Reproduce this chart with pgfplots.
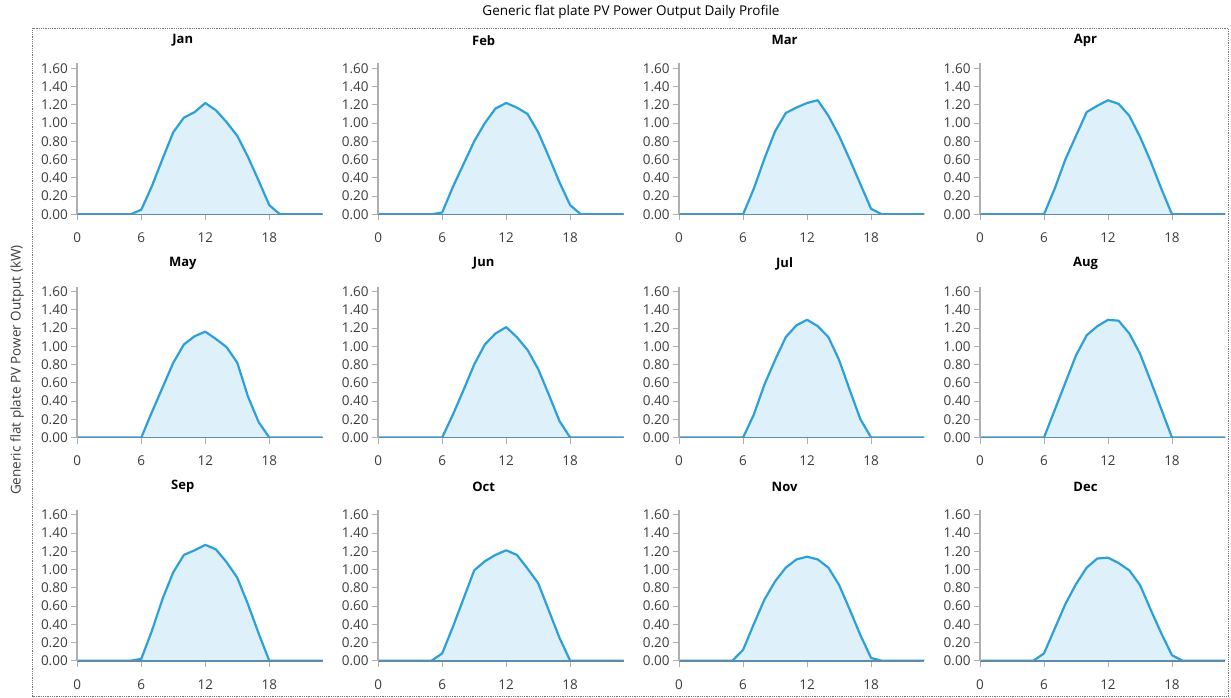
\documentclass[border=0pt]{standalone}
\usepackage{pgfplots}
\usepackage{pgfplotstable}
\pgfplotsset{compat=1.18}
\usepackage{fontspec}
\setmainfont{Open Sans}
\definecolor{pvline}{RGB}{45,160,218}
\definecolor{pvfill}{RGB}{222,240,250}
\definecolor{axgray}{RGB}{175,175,175}
\definecolor{zeroline}{RGB}{95,140,170}
\definecolor{ticktext}{RGB}{60,60,60}
\definecolor{framegray}{RGB}{120,120,120}

\pgfplotstableread{
h  Jan  Feb  Mar  Apr  May  Jun  Jul  Aug  Sep  Oct  Nov  Dec
0  0    0    0    0    0    0    0    0    0    0    0    0
1  0    0    0    0    0    0    0    0    0    0    0    0
2  0    0    0    0    0    0    0    0    0    0    0    0
3  0    0    0    0    0    0    0    0    0    0    0    0
4  0    0    0    0    0    0    0    0    0    0    0    0
5  0    0    0    0    0    0    0    0    0    0    0    0
6  0.05 0.02 0    0    0    0    0    0    0.02 0.08 0.12 0.08
7  0.31 0.30 0.28 0.28 0.28 0.25 0.25 0.30 0.33 0.37 0.40 0.35
8  0.61 0.55 0.61 0.60 0.55 0.52 0.58 0.60 0.68 0.68 0.67 0.62
9  0.90 0.80 0.91 0.86 0.82 0.80 0.85 0.90 0.97 0.99 0.87 0.84
10 1.06 1.00 1.11 1.12 1.02 1.02 1.10 1.12 1.16 1.09 1.02 1.02
11 1.12 1.16 1.17 1.19 1.11 1.14 1.23 1.22 1.21 1.16 1.11 1.12
12 1.22 1.22 1.22 1.25 1.16 1.21 1.29 1.29 1.27 1.21 1.14 1.13
13 1.14 1.17 1.25 1.21 1.08 1.10 1.22 1.28 1.22 1.16 1.11 1.07
14 1.01 1.10 1.08 1.08 0.99 0.96 1.10 1.14 1.08 1.01 1.02 0.99
15 0.86 0.90 0.86 0.85 0.82 0.75 0.85 0.92 0.91 0.85 0.83 0.83
16 0.63 0.63 0.60 0.58 0.45 0.47 0.52 0.62 0.62 0.55 0.56 0.56
17 0.37 0.35 0.33 0.28 0.17 0.18 0.20 0.31 0.30 0.25 0.28 0.30
18 0.10 0.10 0.06 0    0    0    0    0    0    0    0.03 0.06
19 0    0    0    0    0    0    0    0    0    0    0    0
20 0    0    0    0    0    0    0    0    0    0    0    0
21 0    0    0    0    0    0    0    0    0    0    0    0
22 0    0    0    0    0    0    0    0    0    0    0    0
23 0    0    0    0    0    0    0    0    0    0    0    0
}\pvdata

\pgfplotsset{pvpanel/.style={
  scale only axis, width=245.3pt, height=151pt,
  xmin=0, xmax=23, ymin=0, ymax=1.655,
  axis lines*=left, axis on top,
  x axis line style={zeroline, line width=1.6pt},
  y axis line style={axgray, line width=1.8pt},
  tick align=outside, major tick length=6pt,
  tick style={axgray, line width=0.9pt},
  xtick={0,6,12,18}, ytick={0,0.2,0.4,0.6,0.8,1.0,1.2,1.4,1.6},
  /pgf/number format/assume math mode=true,
  ticklabel style={font=\fontsize{13.5}{15}\selectfont, text=ticktext},
  yticklabel style={/pgf/number format/.cd, fixed, fixed zerofill, precision=2},
  xticklabel style={yshift=-9pt},
  title style={font=\bfseries\fontsize{13}{15}\selectfont, at={(0.43,1)}, anchor=center, yshift=17pt},
}}

\newcommand{\panel}[3]{%
\begin{axis}[pvpanel, at={(#2pt,#3pt)}, anchor=south west, title={#1}]
\addplot[draw=none, fill=pvfill] table[x=h, y=#1] {\pvdata} \closedcycle;
\addplot[pvline, line width=2.2pt, line join=round] table[x=h, y=#1] {\pvdata};
\end{axis}}

\begin{document}
\begin{tikzpicture}
\path[use as bounding box] (0,0) rectangle (1231pt,-698pt);
\draw[framegray, densely dotted, line width=0.8pt] (32.5pt,-28.5pt) rectangle (1228.5pt,-696.5pt);
\node[font=\fontsize{13.5}{15}\selectfont, text=black] at (631pt,-12pt) {Generic flat plate PV Power Output Daily Profile};
\node[font=\fontsize{13.5}{15}\selectfont, text=ticktext, rotate=90] at (17pt,-370pt) {Generic flat plate PV Power Output (kW)};
\panel{Jan}{77.3}{-214.3}
\panel{Feb}{378.2}{-214.3}
\panel{Mar}{679.1}{-214.3}
\panel{Apr}{980.0}{-214.3}
\panel{May}{77.3}{-437.5}
\panel{Jun}{378.2}{-437.5}
\panel{Jul}{679.1}{-437.5}
\panel{Aug}{980.0}{-437.5}
\panel{Sep}{77.3}{-660.7}
\panel{Oct}{378.2}{-660.7}
\panel{Nov}{679.1}{-660.7}
\panel{Dec}{980.0}{-660.7}
\end{tikzpicture}
\end{document}
